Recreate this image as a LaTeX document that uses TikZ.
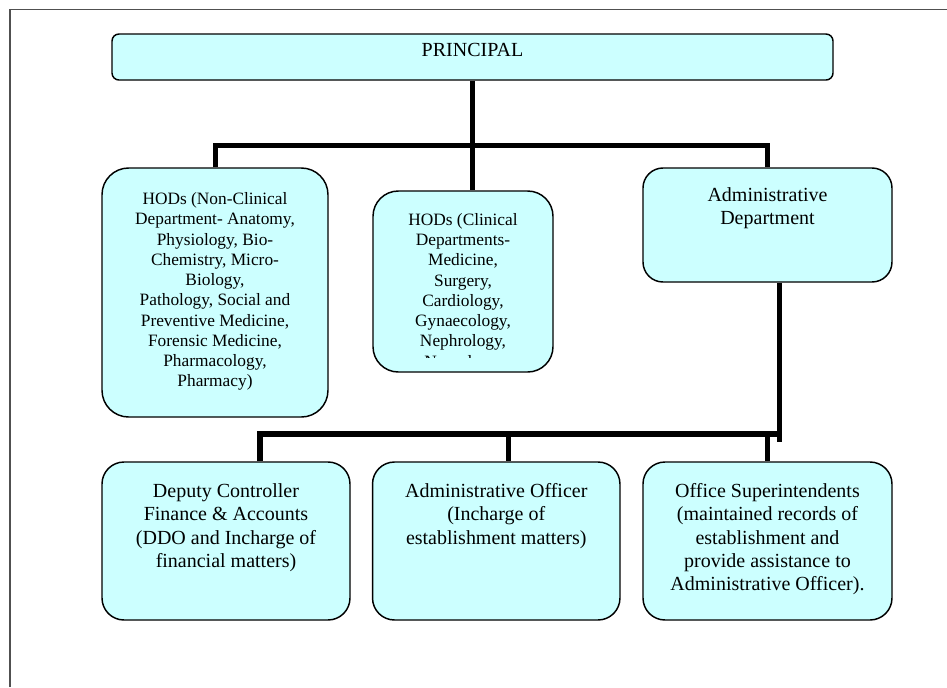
\documentclass[tikz,border=0pt]{standalone}
\usepackage{fontspec}
\setmainfont{Liberation Serif}
\definecolor{boxfill}{HTML}{CCFFFF}
\definecolor{framegray}{HTML}{505050}
\begin{document}
\begin{tikzpicture}[x=0.75pt,y=-0.75pt,
  box/.style={draw=black, line width=1.1pt, fill=boxfill, inner sep=0pt, rectangle},
  conn/.style={draw=black, line width=3.75pt},
  connb/.style={draw=black, line width=4.5pt},
  txtsm/.style={font=\fontsize{13pt}{15.2pt}\selectfont, align=center, inner sep=0pt, anchor=north},
  txtlg/.style={font=\fontsize{15pt}{17.5pt}\selectfont, align=center, inner sep=0pt, anchor=north}]
\useasboundingbox (0,0) rectangle (947,687);
% frame
\draw[framegray, line width=1.1pt] (10,687) -- (10,9.3) -- (947,9.3);
% boxes
\node[box, rounded corners=5.25pt, minimum width=540.75pt, minimum height=34.5pt] (pr) at (472.5,57) {};
\node[box, rounded corners=20pt, minimum width=169.5pt, minimum height=186.75pt] (hod1) at (215,292.5) {};
\node[box, rounded corners=19pt, minimum width=135pt, minimum height=135.75pt] (cl) at (463,281.5) {};
\node[box, rounded corners=15pt, minimum width=186.75pt, minimum height=85.5pt] (adm) at (767.5,225) {};
\node[box, rounded corners=16.5pt, minimum width=186pt, minimum height=118.5pt] (dep) at (226,541) {};
\node[box, rounded corners=16.5pt, minimum width=185.6pt, minimum height=118.5pt] (ao) at (496.25,541) {};
\node[box, rounded corners=16.5pt, minimum width=186.75pt, minimum height=118.5pt] (off) at (767.5,541) {};
% texts
\node[font=\fontsize{15pt}{17.5pt}\selectfont, inner sep=0pt, anchor=base] (prt) at (472.5,56) {PRINCIPAL};
\node[txtsm] (hod1t) at (215,190.1) {\strut HODs (Non-Clinical\\Department- Anatomy,\\Physiology, Bio-\\Chemistry, Micro-\\Biology,\\Pathology, Social and\\Preventive Medicine,\\Forensic Medicine,\\Pharmacology,\\Pharmacy)};
\begin{scope}
\clip (373,191) rectangle (553,357.5);
\node[txtsm] (clt) at (463,210.8) {\strut HODs (Clinical\\Departments-\\Medicine,\\Surgery,\\Cardiology,\\Gynaecology,\\Nephrology,\\Neurology,};
\end{scope}
\node[txtlg] (admt) at (767.5,184.4) {\strut Administrative\\Department};
\node[txtlg] (dept) at (226,481) {\strut Deputy Controller\\Finance \& Accounts\\(DDO and Incharge of\\financial matters)};
\node[txtlg] (aot) at (496.25,481) {\strut Administrative Officer\\(Incharge of\\establishment matters)};
\node[txtlg] (offt) at (767.5,481) {\strut Office Superintendents\\(maintained records of\\establishment and\\provide assistance to\\Administrative Officer).};
% connector junctions
\coordinate (tY) at (472.7,145.7);
\coordinate (bL) at (259.5,433.5);
\coordinate (bM) at (508,433.5);
\coordinate (bR) at (767.5,433.5);
\coordinate (bE) at (781.5,433.5);
\coordinate (aX) at (779.7,441.7);
% top connectors
\draw[conn] ([xshift=0.15pt]pr.south) -- ([xshift=0.15pt]pr.south |- cl.north);
\draw[conn] (hod1.north) -- (hod1.north |- tY) -- (adm.north |- tY) -- (adm.north);
% bottom connectors
\draw[conn] (adm.south -| aX) -- (aX);
\draw[connb] (dep.north -| bL) -- (bL) -- (bE);
\draw[conn] (bM) -- (ao.north -| bM);
\draw[conn] (bR) -- (off.north);
\end{tikzpicture}
\end{document}
